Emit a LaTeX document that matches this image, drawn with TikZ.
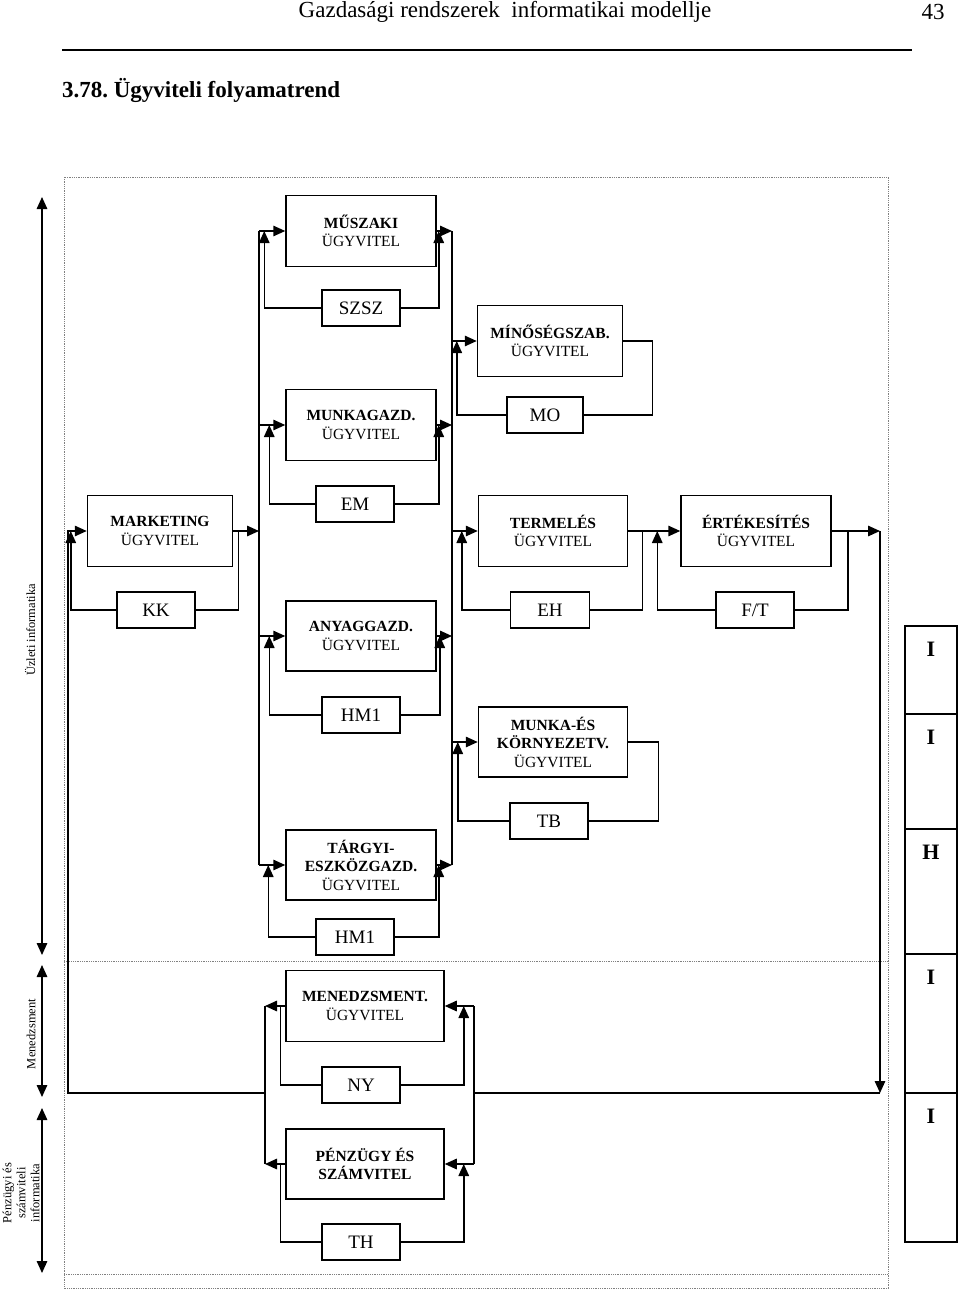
\documentclass[tikz,border=0pt]{standalone}
\usepackage{fontspec}
\setmainfont{Liberation Serif}
\frenchspacing
\usetikzlibrary{arrows.meta,calc}
\begin{document}
\begin{tikzpicture}[x=1pt,y=-1pt,line width=1.5pt,
  ugybox/.style={draw,minimum width=150pt,minimum height=71pt,align=center,inner sep=0pt,font=\fontsize{15.5}{18.5}\selectfont},
  kodbox/.style={draw,minimum width=78pt,minimum height=36pt,inner sep=0pt,font=\fontsize{19}{22}\selectfont},
  flow/.style={-{Triangle[length=12pt,width=10.5pt]}},
  axis/.style={{Triangle[length=12pt,width=10.5pt]}-{Triangle[length=12pt,width=10.5pt]}},
  keret/.style={densely dotted,gray,line width=0.8pt},
  oldal/.style={rotate=90,align=center,font=\fontsize{12.5}{14}\selectfont}]
  \useasboundingbox (0,0) rectangle (960,1292);

  \node[font=\fontsize{23}{26}\selectfont] (fej) at (505,12) {Gazdasági rendszerek\ \ informatikai modellje};
  \node[font=\fontsize{23}{26}\selectfont] (oldalszam) at (933,12) {43};
  \draw[line width=1.2pt] (62,50) -- (912,50);
  \node[anchor=west,font=\fontsize{23}{26}\selectfont\bfseries] (cim) at (58,90) {3.78. Ügyviteli folyamatrend};

  \draw[keret] (64,177) rectangle (888,1288);
  \draw[keret] (64,961) -- (888,961);
  \draw[keret] (64,1274) -- (888,1274);

  \coordinate (ax1) at (42,197);
  \coordinate (ax2) at (42,955);
  \coordinate (ax3) at (42,965);
  \coordinate (ax4) at (42,1097);
  \coordinate (ax5) at (42,1108);
  \coordinate (ax6) at (42,1273);
  \draw[axis] (ax1) -- (ax2);
  \draw[axis] (ax3) -- (ax4);
  \draw[axis] (ax5) -- (ax6);
  \node[oldal] (uzleti) at (30,630) {Üzleti informatika};
  \node[oldal] (menedzsment) at (31,1034) {Menedzsment};
  \node[oldal] (penzugyi) at (21,1193) {Pénzügyi és\\számviteli\\informatika};

  \node[ugybox] (muszaki) at (361,231) {\textbf{MŰSZAKI}\\ÜGYVITEL};
  \node[kodbox] (szsz) at (361,308) {SZSZ};
  \node[ugybox,minimum width=145pt] (minoseg) at (550,341) {\textbf{MÍNŐSÉGSZAB.}\\ÜGYVITEL};
  \node[kodbox,minimum width=76pt] (mo) at (545,415) {MO};
  \node[ugybox] (munkagazd) at (361,425) {\textbf{MUNKAGAZD.}\\ÜGYVITEL};
  \node[ugybox,minimum width=145pt] (marketing) at (160,531) {\textbf{MARKETING}\\ÜGYVITEL};
  \node[kodbox] (em) at (355,504) {EM};
  \node[ugybox,minimum width=149pt] (termeles) at (553,531) {\textbf{TERMELÉS}\\ÜGYVITEL};
  \node[ugybox] (ertekesites) at (756,531) {\textbf{ÉRTÉKESÍTÉS}\\ÜGYVITEL};
  \node[kodbox] (kk) at (156,610) {KK};
  \node[ugybox,minimum height=70pt] (anyag) at (361,636) {\textbf{ANYAGGAZD.}\\ÜGYVITEL};
  \node[kodbox,minimum width=79pt] (eh) at (550,610) {EH};
  \node[kodbox] (ft) at (755,610) {F/T};
  \node[kodbox] (hmegy) at (361,715) {HM1};
  \node[ugybox,minimum width=149pt,minimum height=70pt] (munkaes) at (553,742) {\textbf{MUNKA-ÉS}\\\textbf{KÖRNYEZETV.}\\ÜGYVITEL};
  \node[kodbox] (tb) at (549,821) {TB};
  \node[ugybox,minimum height=70pt] (targyi) at (361,865) {\textbf{TÁRGYI-}\\\textbf{ESZKÖZGAZD.}\\ÜGYVITEL};
  \node[kodbox] (hmketto) at (355,937) {HM1};
  \node[ugybox,minimum width=158pt] (menedzs) at (365,1006) {\textbf{MENEDZSMENT.}\\ÜGYVITEL};
  \node[kodbox] (ny) at (361,1085) {NY};
  \node[ugybox,minimum width=158pt,minimum height=70pt] (penzugy) at (365,1164) {\textbf{PÉNZÜGY ÉS}\\\textbf{SZÁMVITEL}};
  \node[kodbox] (th) at (361,1242) {TH};

  \coordinate (lbus) at (259,231);
  \coordinate (rbus) at (452,231);
  \coordinate (lline) at (68,1093);
  \coordinate (lmbus) at (265,1093);
  \coordinate (rmbus) at (474,1093);
  \coordinate (ecorner) at (880,1093);

  \draw (lbus) -- (targyi.west -| lbus);
  \draw (rbus) -- (targyi.east -| rbus);
  \foreach \n in {muszaki,munkagazd,anyag,targyi} {
    \draw[flow] (\n.west -| lbus) -- (\n.west);
    \draw[flow] (\n.east) -- (\n.east -| rbus);
  }
  \foreach \n in {minoseg,termeles,munkaes}
    \draw[flow] (\n.west -| rbus) -- (\n.west);

  \foreach \n/\k/\a/\b in {muszaki/szsz/-21/2,munkagazd/em/-16/2,anyag/hmegy/-16/3,targyi/hmketto/-17/2} {
    \draw[flow] (\k.west) -| ($(\n.west)+(\a,0)$);
    \draw[flow] (\k.east) -| ($(\n.east)+(\b,0)$);
  }
  \foreach \n/\k/\a/\b in {marketing/kk/-16/5,termeles/eh/-16/14,ertekesites/ft/-23/16,minoseg/mo/-20/29,munkaes/tb/-20/30} {
    \draw[flow] (\k.west) -| ($(\n.west)+(\a,0)$);
    \draw (\k.east) -| ($(\n.east)+(\b,0)$) -- (\n.east);
  }

  \draw[flow] (marketing.east) -- (marketing.east -| lbus);
  \draw[flow] (termeles.east) -- (ertekesites.west);
  \draw[flow] (ertekesites.east) -- (ertekesites.east -| ecorner);
  \draw[flow] (ertekesites.east -| ecorner) -- (ecorner);
  \draw (ecorner) -- (rmbus);
  \draw (menedzs.east -| rmbus) -- (penzugy.east -| rmbus);
  \draw (menedzs.west -| lmbus) -- (penzugy.west -| lmbus);
  \foreach \n/\k in {menedzs/ny,penzugy/th} {
    \draw[flow] (\n.east -| rmbus) -- (\n.east);
    \draw[flow] (\n.west) -- (\n.west -| lmbus);
    \draw[flow] (\k.east) -| ($(\n.east)+(19,0)$);
    \draw (\k.west) -| ($(\n.west)+(-5,0)$);
  }
  \draw[flow] (lmbus) -| (marketing.west -| lline) -- (marketing.west);

  \foreach \a/\b/\t in {626/714/I,714/829/I,829/954/H,954/1093/I,1093/1242/I} {
    \draw (905,\a) rectangle (957,\b);
    \node[font=\fontsize{22}{24}\selectfont\bfseries] at (931,{\a+23}) {\t};
  }
\end{tikzpicture}
\end{document}
